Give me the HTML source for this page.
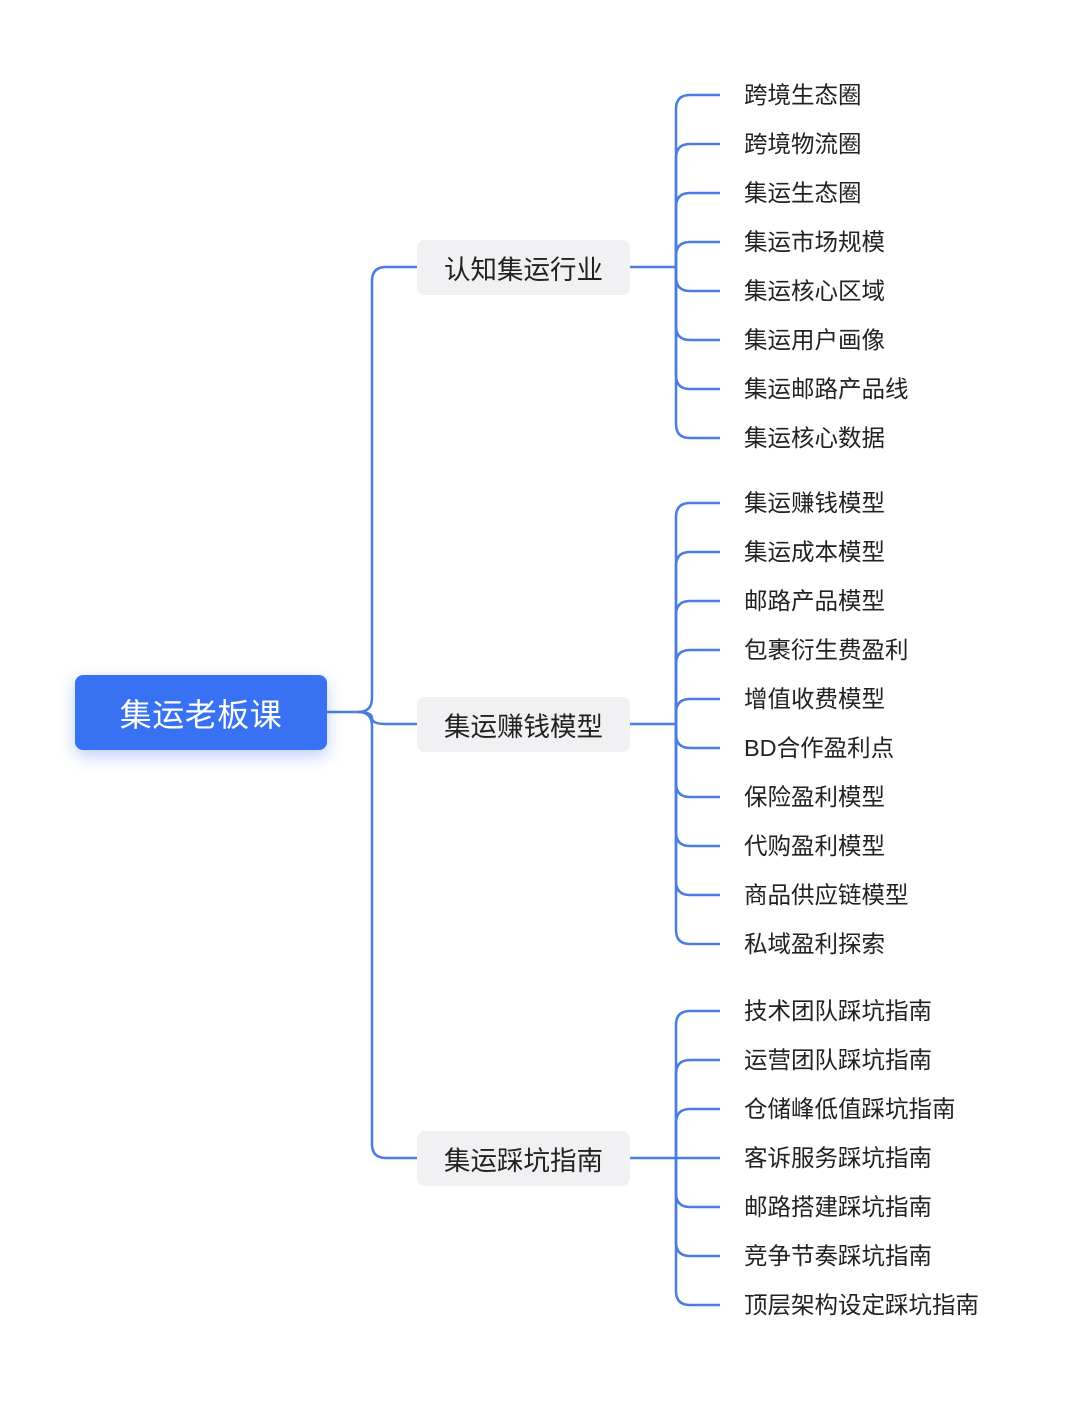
<!DOCTYPE html>
<html><head><meta charset="utf-8"><style>
html,body{margin:0;padding:0;background:#fff;}
body{width:1080px;height:1401px;position:relative;overflow:hidden;font-family:"Liberation Sans","Noto Sans CJK SC",sans-serif;}
.root{position:absolute;left:75px;top:675px;width:252px;height:75px;background:#3872f2;border-radius:8px;color:#fff;font-size:32px;display:flex;align-items:center;justify-content:center;box-shadow:0 6px 16px rgba(56,114,242,.35);letter-spacing:0.5px;}
.mid{position:absolute;left:417px;width:213px;height:55px;background:#f1f1f3;border-radius:8px;color:#222;font-size:26.5px;display:flex;align-items:center;justify-content:center;}
svg{position:absolute;left:0;top:0;}
svg text{font-family:"Liberation Sans","Noto Sans CJK SC",sans-serif;font-size:23.5px;fill:#222;dominant-baseline:central;}
</style></head><body>
<svg width="1080" height="1401">
<g fill="none" stroke="#4a7de0" stroke-width="2.5">
<path d="M327,712 H358 Q372,712 372,698 V281 Q372,267 386,267 H417"/>
<path d="M358,712 Q372,712 372,718 Q372,724 386,724 H417"/>
<path d="M358,712 Q372,712 372,726 V1144 Q372,1158 386,1158 H417"/>
<path d="M630,267 H676"/>
<path d="M676,267 V109 Q676,95 690,95 H720"/>
<path d="M676,267 V158 Q676,144 690,144 H720"/>
<path d="M676,267 V207 Q676,193 690,193 H720"/>
<path d="M676,267 V256 Q676,242 690,242 H720"/>
<path d="M676,267 V277 Q676,291 690,291 H720"/>
<path d="M676,267 V326 Q676,340 690,340 H720"/>
<path d="M676,267 V375 Q676,389 690,389 H720"/>
<path d="M676,267 V424 Q676,438 690,438 H720"/>
<path d="M630,724 H676"/>
<path d="M676,724 V517 Q676,503 690,503 H720"/>
<path d="M676,724 V566 Q676,552 690,552 H720"/>
<path d="M676,724 V615 Q676,601 690,601 H720"/>
<path d="M676,724 V664 Q676,650 690,650 H720"/>
<path d="M676,724 V713 Q676,699 690,699 H720"/>
<path d="M676,724 V734 Q676,748 690,748 H720"/>
<path d="M676,724 V783 Q676,797 690,797 H720"/>
<path d="M676,724 V832 Q676,846 690,846 H720"/>
<path d="M676,724 V881 Q676,895 690,895 H720"/>
<path d="M676,724 V930 Q676,944 690,944 H720"/>
<path d="M630,1158 H720"/>
<path d="M676,1158 V1025 Q676,1011 690,1011 H720"/>
<path d="M676,1158 V1074 Q676,1060 690,1060 H720"/>
<path d="M676,1158 V1123 Q676,1109 690,1109 H720"/>
<path d="M676,1158 V1193 Q676,1207 690,1207 H720"/>
<path d="M676,1158 V1242 Q676,1256 690,1256 H720"/>
<path d="M676,1158 V1291 Q676,1305 690,1305 H720"/>
</g>
<g>
<text x="744" y="95">跨境生态圈</text>
<text x="744" y="144">跨境物流圈</text>
<text x="744" y="193">集运生态圈</text>
<text x="744" y="242">集运市场规模</text>
<text x="744" y="291">集运核心区域</text>
<text x="744" y="340">集运用户画像</text>
<text x="744" y="389">集运邮路产品线</text>
<text x="744" y="438">集运核心数据</text>
<text x="744" y="503">集运赚钱模型</text>
<text x="744" y="552">集运成本模型</text>
<text x="744" y="601">邮路产品模型</text>
<text x="744" y="650">包裹衍生费盈利</text>
<text x="744" y="699">增值收费模型</text>
<text x="744" y="748">BD合作盈利点</text>
<text x="744" y="797">保险盈利模型</text>
<text x="744" y="846">代购盈利模型</text>
<text x="744" y="895">商品供应链模型</text>
<text x="744" y="944">私域盈利探索</text>
<text x="744" y="1011">技术团队踩坑指南</text>
<text x="744" y="1060">运营团队踩坑指南</text>
<text x="744" y="1109">仓储峰低值踩坑指南</text>
<text x="744" y="1158">客诉服务踩坑指南</text>
<text x="744" y="1207">邮路搭建踩坑指南</text>
<text x="744" y="1256">竞争节奏踩坑指南</text>
<text x="744" y="1305">顶层架构设定踩坑指南</text>
</g>
</svg>
<div class="root">集运老板课</div>
<div class="mid" style="top:240px">认知集运行业</div>
<div class="mid" style="top:697px">集运赚钱模型</div>
<div class="mid" style="top:1131px">集运踩坑指南</div>
</body></html>
